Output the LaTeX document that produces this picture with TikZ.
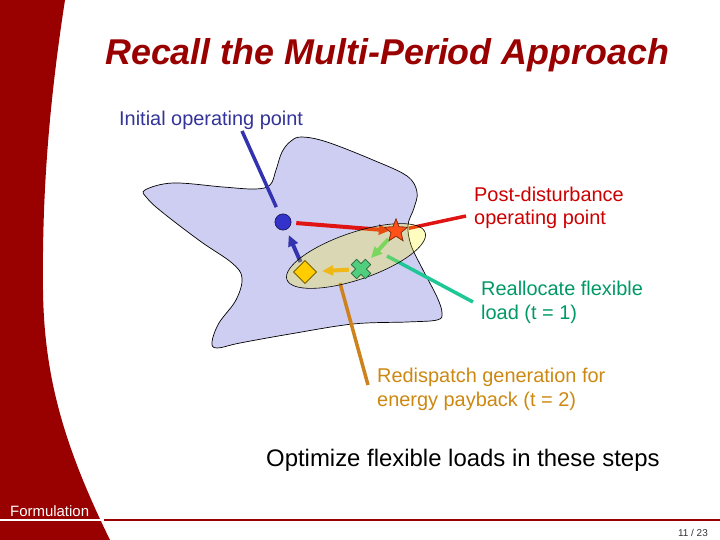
\documentclass[tikz,border=0pt]{standalone}
\usepackage{fontspec}
\setmainfont{Liberation Sans}
\usetikzlibrary{arrows.meta,shapes.geometric}

\definecolor{slidered}{RGB}{153,0,0}
\definecolor{blobfill}{RGB}{206,206,242}
\definecolor{initblue}{RGB}{51,51,153}
\definecolor{lineblue}{RGB}{51,51,175}
\definecolor{dotblue}{RGB}{51,51,204}
\definecolor{postred}{RGB}{204,0,0}
\definecolor{linered}{RGB}{225,20,20}
\definecolor{starfill}{RGB}{255,80,25}
\definecolor{flexgreen}{RGB}{0,153,102}
\definecolor{lineteal}{RGB}{30,200,150}
\definecolor{arrowgreen}{RGB}{80,205,125}
\definecolor{redisp}{RGB}{204,136,17}
\definecolor{lineorange}{RGB}{205,130,30}
\definecolor{arroworange}{RGB}{235,165,30}
\definecolor{gold}{RGB}{255,204,0}

\tikzset{
  lbl/.style={inner sep=0, anchor=base west, align=left, font=\fontsize{20}{24}\selectfont},
  callout/.style={line width=3.5bp},
  move/.style={line width=4bp, -{Triangle[length=11bp,width=10bp]}},
  marker/.style={inner sep=0, line width=0.6bp},
}

\begin{document}
\begin{tikzpicture}[x=1bp, y=-1bp]

\useasboundingbox (0,0) rectangle (720,540);

\fill [slidered] (0,0) -- (65,0) .. controls (48,110) and (42,200) .. (43,290)
  .. controls (44,380) and (66,450) .. (110,540) -- (0,540) -- cycle;
\draw [slidered, line width=1.2bp] (104,520) -- (720,520);
\draw [white, line width=1.2bp] (0,520) -- (104,520);

\draw (105,65) node (title) [inner sep=0, anchor=base west, text=slidered,
  font=\fontsize{36}{40}\selectfont\bfseries\itshape] {Recall the Multi-Period Approach};

\draw [black, line width=0.7bp, fill=blobfill] plot [smooth cycle, tension=0.6] coordinates {
  (145,190) (173,183) (223,187) (255,189) (270,185) (276,170) (282,152) (291,141) (302,137)
  (327,142) (373,160) (407,176) (417,192) (414,208) (408,225) (411,245) (423,270)
  (437,297) (442,313) (437,320) (407,322) (353,324) (290,334) (240,343) (217,348)
  (212,342) (219,323) (236,300) (242,278) (232,263) (200,241) (162,212) (147,198)};

\coordinate (initA) at (242,131);
\coordinate (postA) at (466,216);
\coordinate (reallocA) at (473,302);
\coordinate (reallocB) at (387,256);
\coordinate (redispA) at (368,385);
\coordinate (redispB) at (340,283);

\draw (283,222) node (opinit) [marker, circle, minimum size=16bp, fill=dotblue, draw=initblue!60!black] {};
\draw (396,231) node (oppost) [marker, star, star points=5, star point ratio=2.3, minimum size=24bp, fill=starfill, draw=starfill!50!black] {};
\draw (361,269) node (opflex) [inner sep=0, minimum size=20bp] {};
\draw (305,272) node (opgen) [marker, diamond, minimum width=23bp, minimum height=23bp, fill=gold, draw=gold!45!black] {};

\draw [callout, lineblue, shorten >=8bp] (initA) -- (opinit);
\draw [callout, linered, shorten >=3bp] (postA) -- (oppost);
\draw [callout, lineteal] (reallocA) -- (reallocB);
\draw [callout, lineorange] (redispA) -- (redispB);

\draw [move, linered, shorten <=5bp, shorten >=-2bp] (opinit) -- (oppost);
\draw [move, arrowgreen, shorten <=1bp, shorten >=1bp] (oppost) -- (opflex);
\draw [move, arroworange, shorten <=2bp, shorten >=6bp] (opflex) -- (opgen);
\draw [move, lineblue, shorten <=2bp, shorten >=6bp] (opgen) -- (opinit);

\draw (356,256) node (region) [ellipse, draw, line width=0.6bp, minimum width=146bp, minimum height=47bp,
  rotate=18.8, fill=yellow, fill opacity=0.25] {};

\draw (opinit) node [marker, circle, minimum size=16bp, fill=dotblue, draw=initblue!60!black] {};
\draw (oppost) node [marker, star, star points=5, star point ratio=2.3, minimum size=24bp, fill=starfill, draw=starfill!50!black] {};
\draw (opgen) node [marker, diamond, minimum width=23bp, minimum height=23bp, fill=gold, draw=gold!45!black] {};
\begin{scope}[shift={(opflex.center)}, rotate=45]
\draw [fill=arrowgreen, draw=arrowgreen!50!black, line width=0.6bp]
  (3.8,10) -- (3.8,3.8) -- (10,3.8) -- (10,-3.8) -- (3.8,-3.8) -- (3.8,-10)
  -- (-3.8,-10) -- (-3.8,-3.8) -- (-10,-3.8) -- (-10,3.8) -- (-3.8,3.8) -- (-3.8,10) -- cycle;
\end{scope}

\draw (119,126) node (initlbl) [lbl, text=initblue] {Initial operating point};
\draw (474,225) node (postlbl) [lbl, text=postred] {Post-disturbance\\operating point};
\draw (481,319) node (realloclbl) [lbl, text=flexgreen] {Reallocate flexible\\load (t = 1)};
\draw (377,406) node (redisplbl) [lbl, text=redisp] {Redispatch generation for\\energy payback (t = 2)};
\draw (266,466) node (optlbl) [lbl, font=\fontsize{24}{28}\selectfont] {Optimize flexible loads in these steps};
\draw (10,516) node (section) [lbl, text=white, font=\fontsize{15}{17}\selectfont] {Formulation};
\draw (708,536) node (pageno) [inner sep=0, anchor=base east, text=black!80, font=\fontsize{10}{12}\selectfont] {11 / 23};

\end{tikzpicture}
\end{document}
